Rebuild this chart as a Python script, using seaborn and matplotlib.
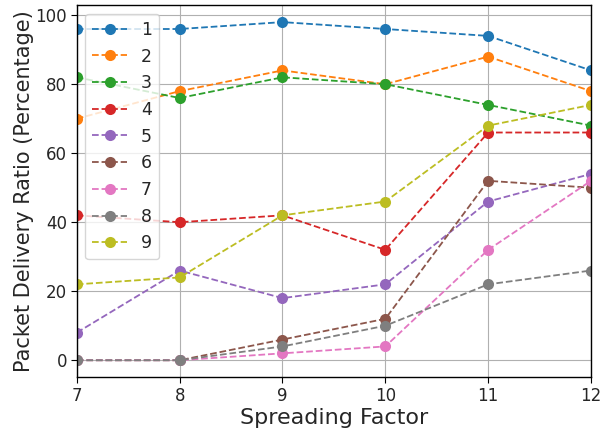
import matplotlib
matplotlib.use("Agg")
import matplotlib.pyplot as plt
import seaborn as sns
import pandas as pd

sf = [7, 8, 9, 10, 11, 12]
series_names = ["1", "2", "3", "4", "5", "6", "7", "8", "9"]
s1 = [96, 96, 98, 96, 94, 84]
s2 = [70, 78, 84, 80, 88, 78]
s3 = [82, 76, 82, 80, 74, 68]
s4 = [42, 40, 42, 32, 66, 66]
s5 = [8, 26, 18, 22, 46, 54]
s6 = [0, 0, 6, 12, 52, 50]
s7 = [0, 0, 2, 4, 32, 52]
s8 = [0, 0, 4, 10, 22, 26]
s9 = [22, 24, 42, 46, 68, 74]
values = [s1, s2, s3, s4, s5, s6, s7, s8, s9]

rows = []
for name, vals in zip(series_names, values):
    for x, v in zip(sf, vals):
        rows.append({"SF": x, "PDR": v, "series": name})
df = pd.DataFrame(rows)

sns.set_style("ticks")
plt.rcParams['font.family'] = ['DejaVu Sans']

fig, ax = plt.subplots(figsize=(6, 4.33), dpi=100)
palette = sns.color_palette("tab10", 9)
for i, name in enumerate(series_names):
    sub = df[df["series"] == name]
    sns.lineplot(data=sub, x="SF", y="PDR", ax=ax, color=palette[i],
                 linestyle="--", marker="o", markersize=8, markeredgewidth=0,
                 linewidth=1.3, label=name)

ax.set_xlim(7, 12)
ax.margins(y=0.05)
ax.set_xticks(sf)
ax.set_yticks([0, 20, 40, 60, 80, 100])
ax.grid(True, color="#b0b0b0", linewidth=0.8)
ax.tick_params(labelsize=12, direction="out", length=4, pad=3, color="black")
for sp in ax.spines.values():
    sp.set_color("black")
    sp.set_linewidth(1.0)
ax.set_xlabel("Spreading Factor", fontsize=16, labelpad=2)
ax.set_ylabel("Packet Delivery Ratio (Percentage)", fontsize=15, labelpad=1)
leg = ax.legend(loc="upper left", fontsize=12.5, framealpha=0.8,
                bbox_to_anchor=(0.0, 1.0), handlelength=2.0)
fig.subplots_adjust(left=0.128, right=0.985, top=0.988, bottom=0.129)
fig.savefig("out.png", dpi=100)
